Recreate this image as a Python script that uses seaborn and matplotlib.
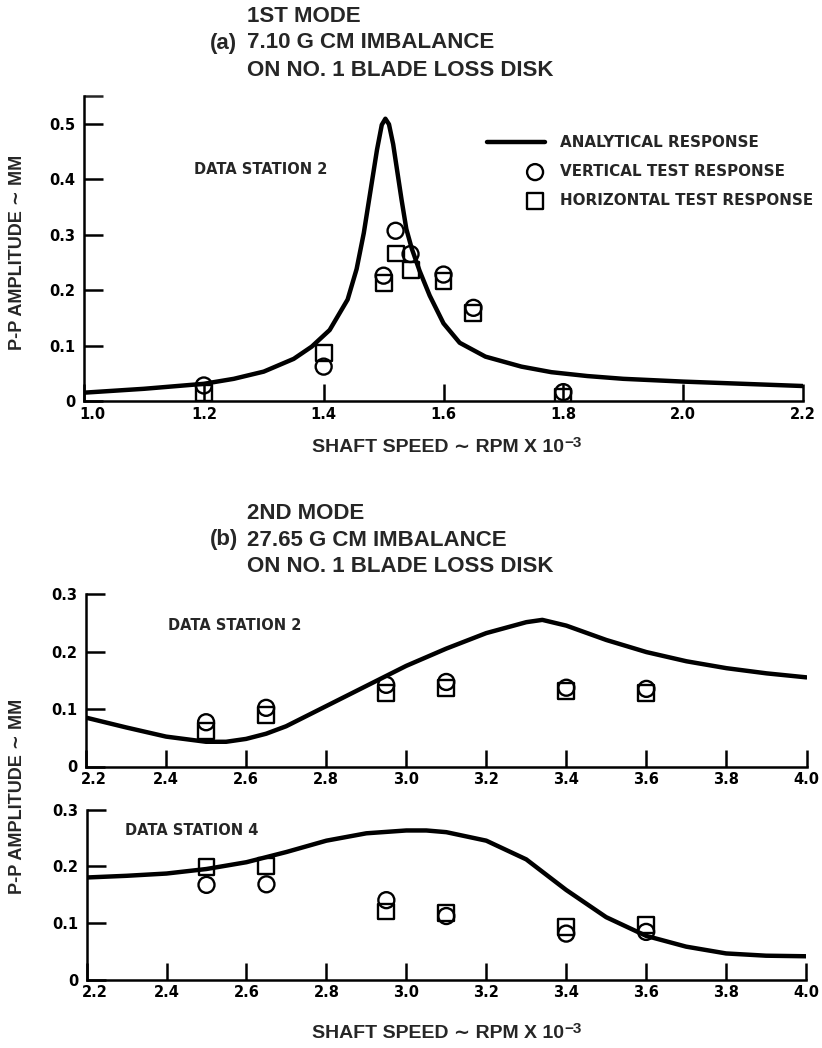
import matplotlib
matplotlib.use("Agg")
import matplotlib.pyplot as plt
import matplotlib.transforms as mtransforms
from matplotlib.collections import PathCollection
from matplotlib.legend_handler import HandlerPathCollection
import seaborn as sns

# ---- 1st mode, data station 2 ----
m1_speed = [1.00, 1.10, 1.20, 1.25, 1.30, 1.35, 1.38, 1.41, 1.44, 1.455, 1.467, 1.478,
            1.489, 1.497, 1.503, 1.509, 1.516, 1.523, 1.530, 1.538, 1.547, 1.560, 1.577,
            1.600, 1.627, 1.670, 1.730, 1.780, 1.840, 1.900, 2.000, 2.100, 2.200]
m1_analytical = [0.015, 0.022, 0.031, 0.040, 0.053, 0.076, 0.098, 0.128, 0.183, 0.238,
                 0.303, 0.378, 0.453, 0.498, 0.509, 0.499, 0.463, 0.413, 0.363, 0.310,
                 0.275, 0.235, 0.190, 0.140, 0.105, 0.080, 0.062, 0.052, 0.045, 0.040,
                 0.035, 0.031, 0.027]
m1_test_speed = [1.20, 1.40, 1.50, 1.52, 1.545, 1.60, 1.65, 1.80]
m1_vertical = [0.028, 0.062, 0.226, 0.307, 0.265, 0.228, 0.168, 0.016]
m1_horizontal = [0.014, 0.087, 0.213, 0.266, 0.236, 0.216, 0.158, 0.008]

# ---- 2nd mode, data station 2 ----
m2s2_speed = [2.20, 2.30, 2.40, 2.50, 2.55, 2.60, 2.65, 2.70, 2.80, 2.90, 3.00, 3.10,
              3.20, 3.30, 3.34, 3.40, 3.50, 3.60, 3.70, 3.80, 3.90, 4.00]
m2s2_analytical = [0.085, 0.068, 0.052, 0.043, 0.043, 0.048, 0.057, 0.070, 0.105, 0.140,
                   0.175, 0.205, 0.232, 0.251, 0.255, 0.245, 0.220, 0.199, 0.183, 0.171,
                   0.162, 0.155]
m2_test_speed = [2.50, 2.65, 2.95, 3.10, 3.40, 3.60]
m2s2_vertical = [0.077, 0.102, 0.142, 0.147, 0.137, 0.135]
m2s2_horizontal = [0.062, 0.090, 0.128, 0.136, 0.131, 0.127]

# ---- 2nd mode, data station 4 ----
m2s4_speed = [2.20, 2.30, 2.40, 2.50, 2.60, 2.70, 2.80, 2.90, 3.00, 3.05, 3.10, 3.20,
              3.30, 3.40, 3.50, 3.60, 3.70, 3.80, 3.90, 4.00]
m2s4_analytical = [0.180, 0.183, 0.187, 0.195, 0.207, 0.225, 0.245, 0.258, 0.263, 0.263,
                   0.260, 0.245, 0.212, 0.158, 0.110, 0.077, 0.058, 0.046, 0.042, 0.041]
m2s4_vertical = [0.167, 0.168, 0.140, 0.112, 0.081, 0.084]
m2s4_horizontal = [0.199, 0.200, 0.120, 0.117, 0.092, 0.096]

# ---- axis ticks ----
m1_xticks = [1.0, 1.2, 1.4, 1.6, 1.8, 2.0, 2.2]
m1_xticklabels = ["1.0", "1.2", "1.4", "1.6", "1.8", "2.0", "2.2"]
m1_yticks = [0.0, 0.1, 0.2, 0.3, 0.4, 0.5]
m1_yticklabels = ["0", "0.1", "0.2", "0.3", "0.4", "0.5"]
m2_xticks = [2.2, 2.4, 2.6, 2.8, 3.0, 3.2, 3.4, 3.6, 3.8, 4.0]
m2_xticklabels = ["2.2", "2.4", "2.6", "2.8", "3.0", "3.2", "3.4", "3.6", "3.8", "4.0"]
m2_yticks = [0.0, 0.1, 0.2, 0.3]
m2_yticklabels = ["0", "0.1", "0.2", "0.3"]

legend_labels = ["ANALYTICAL RESPONSE", "VERTICAL TEST RESPONSE", "HORIZONTAL TEST RESPONSE"]

sns.set_style("ticks")
plt.rcParams["font.family"] = ["DejaVu Sans"]
plt.rcParams["font.weight"] = "bold"

W, H = 822, 1048
fig = plt.figure(figsize=(W / 100, H / 100), dpi=100)


def axes_px(left, right, top, bottom):
    return fig.add_axes([left / W, 1 - bottom / H, (right - left) / W, (bottom - top) / H])


LABEL_FONT = ["Liberation Sans", "DejaVu Sans"]


def draw_panel(ax, speed, analytical, test_speed, vertical, horizontal,
               xlim, ylim, xticks, xticklabels, yticks, yticklabels,
               station, station_xy, with_labels=False):
    sns.lineplot(x=speed, y=analytical, color="black", linewidth=3.2, sort=False,
                 estimator=None, ax=ax, zorder=2,
                 label=legend_labels[0] if with_labels else None)
    ax.lines[-1].set_solid_joinstyle("round")
    for vals, mk, lab in ((vertical, "o", legend_labels[1]), (horizontal, "s", legend_labels[2])):
        sns.scatterplot(x=test_speed, y=vals, marker=mk, s=11.5 ** 2, color="black",
                        linewidth=1.7, ax=ax, zorder=3,
                        label=lab if with_labels else None)
        coll = ax.collections[-1]
        coll.set_facecolor("none")
        coll.set_edgecolor("black")
    ax.set_xlim(*xlim)
    ax.set_ylim(*ylim)
    ax.set_xticks(xticks)
    ax.set_xticklabels(xticklabels)
    ax.set_yticks(yticks)
    ax.set_yticklabels(yticklabels)
    sns.despine(ax=ax)
    for side in ("left", "bottom"):
        ax.spines[side].set_linewidth(1.8)
        ax.spines[side].set_color("black")
    ax.tick_params(axis="y", direction="in", length=14, width=1.8, pad=6,
                   labelsize=10.5, colors="black")
    ax.tick_params(axis="x", direction="in", length=12, width=1.8, pad=4,
                   labelsize=10.5, colors="black")
    for t in ax.get_xticklabels() + ax.get_yticklabels():
        t.set_fontweight("bold")
    # the first speed label sits clear of the zero label at the corner
    first = ax.get_xticklabels()[0]
    first.set_transform(first.get_transform() +
                        mtransforms.ScaledTranslation(8 / 100, 0, fig.dpi_scale_trans))
    ax.set_xlabel("")
    ax.set_ylabel("")
    ax.text(station_xy[0], station_xy[1], station, transform=ax.transAxes,
            ha="left", va="center", fontsize=10.5, fontweight="bold")
    ax.patch.set_alpha(0)


# (a) first mode
ax1 = axes_px(84, 803, 96, 401)
draw_panel(ax1, m1_speed, m1_analytical, m1_test_speed, m1_vertical, m1_horizontal,
           (1.0, 2.2), (0, 0.55), m1_xticks, m1_xticklabels, m1_yticks, m1_yticklabels,
           "DATA STATION 2", (0.153, 0.76), with_labels=True)
ax1.set_yticks([0.55], minor=True)
ax1.tick_params(axis="y", which="minor", direction="in", length=14, width=1.8)
ax1.legend(loc="upper left", bbox_to_anchor=(487 / W, 1 - 135 / H),
           bbox_transform=fig.transFigure, frameon=False, borderpad=0, borderaxespad=0,
           handlelength=3.85, handletextpad=1.0, labelspacing=0.93, scatterpoints=1,
           handler_map={PathCollection: HandlerPathCollection(xpad=2.5)},
           prop={"size": 10.9, "weight": "bold"})

# (b) second mode, stations 2 and 4
ax2 = axes_px(86, 806.5, 594, 766.5)
draw_panel(ax2, m2s2_speed, m2s2_analytical, m2_test_speed, m2s2_vertical, m2s2_horizontal,
           (2.2, 4.0), (0, 0.3), m2_xticks, m2_xticklabels, m2_yticks, m2_yticklabels,
           "DATA STATION 2", (0.114, 0.82))
ax3 = axes_px(86.6, 806, 809.5, 979.5)
draw_panel(ax3, m2s4_speed, m2s4_analytical, m2_test_speed, m2s4_vertical, m2s4_horizontal,
           (2.2, 4.0), (0, 0.3), m2_xticks, m2_xticklabels, m2_yticks, m2_yticklabels,
           "DATA STATION 4", (0.053, 0.879))

# headings
TITLE = dict(fontsize=16, fontweight="bold", family=LABEL_FONT, va="center", ha="left")
for txt, x, y in (("1ST MODE", 247, 16), ("(a)", 210, 43), ("7.10 G CM IMBALANCE", 247, 43),
                  ("ON NO. 1 BLADE LOSS DISK", 247, 70),
                  ("2ND MODE", 247, 513), ("(b)", 210, 540), ("27.65 G CM IMBALANCE", 247, 540),
                  ("ON NO. 1 BLADE LOSS DISK", 247, 567)):
    fig.text(x / W, 1 - y / H, txt, **TITLE)

# shaft-speed label with a raised exponent
XLAB = "SHAFT SPEED \u223c RPM X 10"
for y, host in ((447, ax1), (1033, ax3)):
    lab = fig.text(438 / W, 1 - y / H, XLAB, ha="center", va="center", fontsize=14,
                   fontweight="bold", family=LABEL_FONT)
    host.annotate("\u22123", xy=(1, 1), xycoords=lab, xytext=(0.5, -3),
                  textcoords="offset points", ha="left", va="center", fontsize=11,
                  fontweight="bold", family=LABEL_FONT, annotation_clip=False)

YLAB = "P-P AMPLITUDE \u223c MM"
for y in (252, 796):
    fig.text(18 / W, 1 - y / H, YLAB, ha="center", va="center", rotation=90,
             fontsize=13, fontweight="bold", family=LABEL_FONT)

fig.savefig("out.png", dpi=100, facecolor="white")
